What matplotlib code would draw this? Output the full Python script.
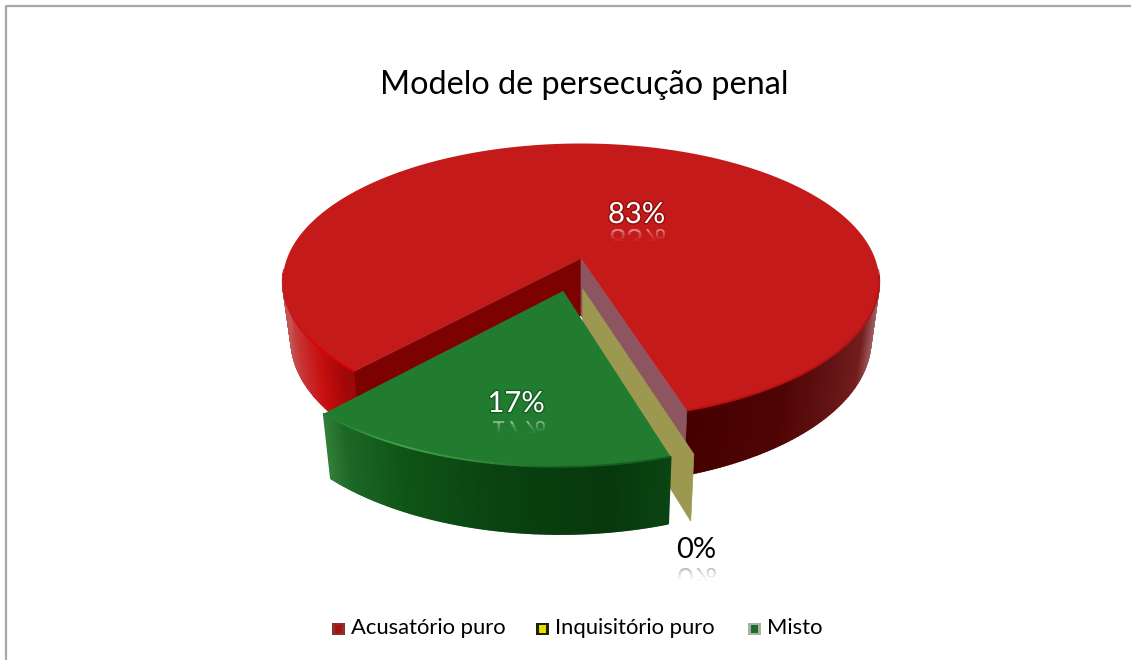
import numpy as np
import matplotlib
matplotlib.use('Agg')
import matplotlib.pyplot as plt
import matplotlib.patheffects as pe
from matplotlib.collections import PolyCollection, LineCollection
from matplotlib.font_manager import FontProperties
from matplotlib.patches import PathPatch, Polygon, Rectangle
from matplotlib.textpath import TextPath
from matplotlib.transforms import Affine2D

plt.rcParams['font.family'] = ['Lato', 'DejaVu Sans']

# dados
title = 'Modelo de persecução penal'
categories = ['Acusatório puro', 'Inquisitório puro', 'Misto']
values = [83.3, 0, 16.7]
value_labels = ['83%', '0%', '17%']

# geometria do "disco" em perspectiva (pixels da imagem)
CX, CY = 581, 258.5
RX, RY, K = 294, 134.2, 0.167
START = 222.5
EXPLODE = [(0, 0), (0.006, -0.22), (-0.058, -0.232)]


def project(x, y):
    w = 1 + K * y
    return CX + RX * x / w, CY - RY * y / w


def under(sx, sy):
    # base da fatia: um pouco menor e deslocada para baixo
    return CX + 0.972 * (sx - CX), sy + 57 + 0.05 * (sy - CY)


def rim(a0, a1, offset, n=240):
    t = np.radians(np.linspace(a0, a1, n))
    return project(np.sin(t) + offset[0], np.cos(t) + offset[1])


def shade(xs, stops):
    px, cols = zip(*stops)
    cols = np.array(cols) / 255
    return np.column_stack([np.interp(xs, px, cols[:, i]) for i in range(3)])


def draw_wall(ax, sx, sy, stops, z):
    # a parede de trás fica escondida, só desenha a da frente
    bx, by = under(sx, sy)
    idx = [i for i in range(len(sx) - 1) if sy[i] > CY + 10 and sy[i + 1] > CY + 10]
    quads = [[(sx[i], sy[i]), (sx[i + 1], sy[i + 1]), (bx[i + 1], by[i + 1]), (bx[i], by[i])]
             for i in idx]
    mids = [(sx[i] + sx[i + 1]) / 2 for i in idx]
    cols = shade(mids, stops)
    ax.add_collection(PolyCollection(quads, facecolors=cols, edgecolors=cols, linewidths=1.2, zorder=z))


def draw_rim_line(ax, sx, sy, stops, z):
    # brilho só na borda da frente
    segs = [[(sx[i], sy[i]), (sx[i + 1], sy[i + 1])] for i in range(len(sx) - 1) if sy[i] > CY + 15]
    mids = [(s[0][0] + s[1][0]) / 2 for s in segs]
    ax.add_collection(LineCollection(segs, colors=shade(mids, stops), linewidths=1.4, zorder=z))


def cut_wall(ax, angle, offset, color, z):
    t = np.radians(angle)
    ax0, ay0 = project(offset[0], offset[1])
    rx, ry = project(np.sin(t) + offset[0], np.cos(t) + offset[1])
    bx0, by0 = under(ax0, ay0)
    bx1, by1 = under(rx, ry)
    ax.add_patch(Polygon([(ax0, ay0), (rx, ry), (bx1, by1), (bx0, by0)], closed=True,
                         facecolor=color, edgecolor=color, linewidth=0.5, zorder=z))


def data_label(ax, x, y, s, color, refl_color, baseline, stroke=None):
    fx = [pe.withStroke(linewidth=2, foreground=stroke, alpha=0.45)] if stroke else None
    ax.text(x, y, s, color=color, fontsize=21, ha='center', va='center', zorder=20, path_effects=fx)
    # reflexo do rótulo, esmaecendo para baixo
    tp = TextPath((0, 0), s, size=29, prop=FontProperties(family='Lato'))
    w = tp.get_extents().width
    for i, alpha in enumerate([0.55, 0.35, 0.2, 0.08]):
        patch = PathPatch(tp, facecolor=refl_color, edgecolor='none', alpha=alpha, zorder=19,
                          transform=Affine2D().translate(x - w / 2, baseline) + ax.transData)
        ax.add_patch(patch)
        patch.set_clip_path(Rectangle((x - w, baseline + i * 3), 2 * w, 3, transform=ax.transData))


fig = plt.figure(figsize=(11.31, 6.6), dpi=100)
ax = fig.add_axes([0, 0, 1, 1])
ax.set_xlim(0, 1131)
ax.set_ylim(660, 0)
ax.axis('off')

# moldura
ax.plot([5.5, 5.5, 1131], [660, 5.5, 5.5], color='#aca6a6', lw=1.6, zorder=1)

# ângulos das fatias a partir dos valores
shares = np.array(values) / sum(values) * 360
ends = START + np.cumsum(shares)
starts = ends - shares

# Acusatório puro
RED_WALL = [(283, (195, 85, 85)), (296, (200, 50, 50)), (318, (200, 15, 15)), (340, (165, 8, 8)), (356, (150, 10, 10)),
            (690, (70, 0, 0)), (780, (78, 4, 4)), (835, (100, 20, 20)), (862, (115, 30, 30)), (880, (170, 110, 110))]
sx, sy = rim(starts[0], ends[0], EXPLODE[0], 400)
draw_wall(ax, sx, sy, RED_WALL, 2)
cut_wall(ax, starts[0], EXPLODE[0], '#7c0202', 3)
cut_wall(ax, ends[0], EXPLODE[0], '#8c5560', 3)
apex = project(*EXPLODE[0])
ax.add_patch(Polygon(np.vstack([apex, np.column_stack([sx, sy])]), closed=True,
                     facecolor='#c51a1a', edgecolor='none', zorder=4))
draw_rim_line(ax, sx, sy, [(283, (190, 30, 30)), (320, (222, 0, 0)), (356, (230, 0, 0)), (700, (190, 12, 12)), (880, (175, 20, 20))], 5)

# Inquisitório puro: fatia sem ângulo, só a parede aparece
cut_wall(ax, ends[1], EXPLODE[1], '#9c9850', 6)

# Misto
GREEN_WALL = [(323, (50, 125, 55)), (345, (28, 103, 38)), (400, (15, 85, 22)), (500, (10, 66, 16)),
              (610, (7, 56, 12)), (668, (10, 68, 18))]
sx, sy = rim(starts[2], ends[2], EXPLODE[2], 160)
draw_wall(ax, sx, sy, GREEN_WALL, 7)
apex = project(*EXPLODE[2])
ax.add_patch(Polygon(np.vstack([apex, np.column_stack([sx, sy])]), closed=True,
                     facecolor='#217c30', edgecolor='none', zorder=8))
draw_rim_line(ax, sx, sy, [(323, (35, 120, 45)), (400, (70, 165, 75)), (480, (55, 140, 60)), (560, (25, 100, 35)), (668, (20, 90, 30))], 9)

# rótulos de dados
data_label(ax, 636.5, 215, value_labels[0], 'white', '#f0d0d0', 229, stroke='#5a0000')
data_label(ax, 516, 404, value_labels[2], 'white', '#d0e0d0', 421, stroke='#0a3a10')
data_label(ax, 696, 550, value_labels[1], 'black', '#909090', 568)

# título
ax.text(584, 85, title, fontsize=23.3, ha='center', va='center', color='black', zorder=20)

# legenda
legend_x = [332, 536, 748]
legend_edge = ['#8a3030', '#222200', '#a8b0a8']
legend_fill = ['#a81010', '#e6dc00', '#1c6e2a']
for x0, name, edge, fill in zip(legend_x, categories, legend_edge, legend_fill):
    ax.add_patch(Rectangle((x0, 622.5), 12.5, 12.5, facecolor=edge, edgecolor='none', zorder=20))
    ax.add_patch(Rectangle((x0 + 2.5, 625), 7.5, 7.5, facecolor=fill, edgecolor='none', zorder=21))
    ax.text(x0 + 19, 627.5, name, fontsize=15.8, ha='left', va='center', color='black', zorder=20)

fig.savefig('out.png', dpi=100)
